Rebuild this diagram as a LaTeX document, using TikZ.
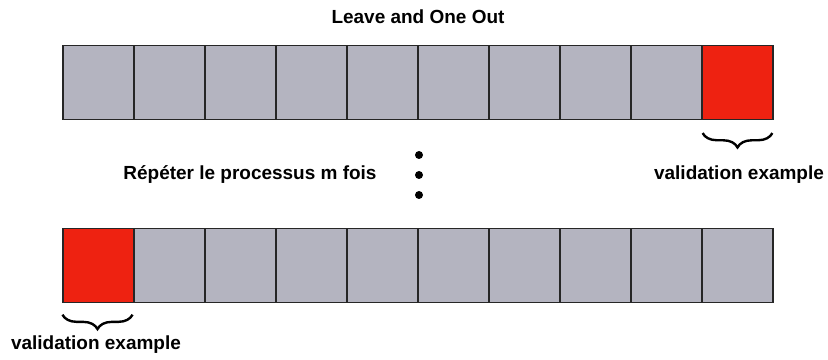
\documentclass[tikz,border=0pt]{standalone}
\usepackage{fontspec}
\setmainfont{Liberation Sans}
\usetikzlibrary{positioning,decorations.pathreplacing}
\definecolor{cellgray}{RGB}{180,180,192}
\definecolor{cellred}{RGB}{238,34,17}

\begin{document}
\begin{tikzpicture}[cell/.style={draw=black!85,fill=cellgray,minimum width=1.775cm,minimum height=1.86cm,inner sep=0pt,line width=0.8pt},
	txt/.style={font=\bfseries\fontsize{13.5}{16}\selectfont},
	dot/.style={fill,circle,inner sep=0pt,minimum size=0.2cm},
	bracket/.style={decorate,decoration={brace,amplitude=0.36cm,mirror},line width=1.7pt}]

\useasboundingbox (0,0) rectangle (20.7,8.975);

\foreach \i in {1,...,10}
	\node[cell](t\i) at ({2.4625+(\i-1)*1.775},6.9125) {};
\foreach \i in {1,...,10}
	\node[cell](b\i) at ({2.4625+(\i-1)*1.775},2.3325) {};
\node[cell,fill=cellred] at (t10) {};
\node[cell,fill=cellred] at (b1) {};

\node[txt](title) at (10.45,8.55) {Leave and One Out};
\node[txt](repeat) at (6.25,4.6) {Répéter le processus m fois};

\node[dot](d1) at (10.475,5.1) {};
\node[dot](d2) at (10.475,4.6) {};
\node[dot](d3) at (10.475,4.1) {};

\coordinate (tl) at ([shift={(0.03,-0.32)}]t10.south west);
\coordinate (tr) at ([shift={(-0.03,-0.32)}]t10.south east);
\coordinate (bl) at ([shift={(0.0,-0.28)}]b1.south west);
\coordinate (br) at ([shift={(-0.05,-0.28)}]b1.south east);
\draw[bracket](tl)--(tr);
\draw[bracket](bl)--(br);

\node[txt](val1) at (18.475,4.6) {validation example};
\node[txt](val2) at (2.4,0.36) {validation example};

\end{tikzpicture}
\end{document}
